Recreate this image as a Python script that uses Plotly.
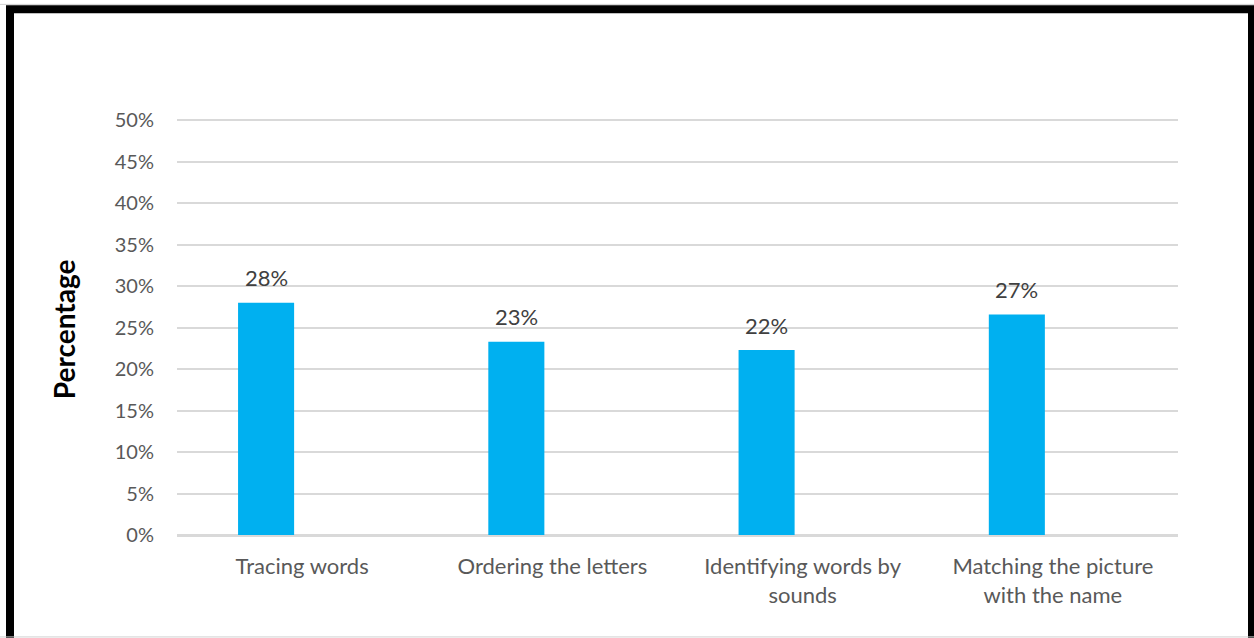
import plotly.graph_objects as go

categories = ["Tracing words", "Ordering the letters", "Identifying words by<br>sounds", "Matching the picture<br>with the name"]
values = [0.280, 0.233, 0.223, 0.266]
y_ticks = [0, 0.05, 0.10, 0.15, 0.20, 0.25, 0.30, 0.35, 0.40, 0.45, 0.50]
y_title = "Percentage"

W, H = 1254, 638
Y_MAX = 0.51
AXIS_Y = 535          # pixel row of 0%
PX_PER_UNIT = 415 / 0.5
L, R, B = 177, 76, H - AXIS_Y
T = AXIS_Y - PX_PER_UNIT * Y_MAX
pw, ph = W - L - R, H - T - B

def px_x(x):
    return (x - L) / pw

def px_y(y):
    return (H - B - y) / ph

FONT = "Lato"
BAR_WIDTH = 0.224
BAR_OFFSET = -0.256
bar_center_shift = (BAR_OFFSET + BAR_WIDTH / 2) * pw / len(categories)

fig = go.Figure()
fig.add_trace(go.Bar(
    x=categories, y=values,
    width=BAR_WIDTH, offset=BAR_OFFSET,
    marker=dict(color="#00B0F0", line=dict(width=0)),
    showlegend=False,
))

annotations = [
    dict(x=c, y=v, xref="x", yref="y", text=f"{v:.0%}", showarrow=False,
         xshift=bar_center_shift, yshift=25, yanchor="middle", xanchor="center",
         font=dict(family=FONT, size=22, color="#404040"))
    for c, v in zip(categories, values)
]
annotations.append(dict(
    x=px_x(64), y=px_y(329), xref="paper", yref="paper", text=f"<b>{y_title}</b>",
    showarrow=False, textangle=-90, xanchor="center", yanchor="middle",
    font=dict(family=FONT, size=28, color="black"),
))

fig.update_layout(
    width=W, height=H,
    margin=dict(l=L, r=R, t=T, b=B, autoexpand=False),
    paper_bgcolor="white", plot_bgcolor="white",
    annotations=annotations,
    xaxis=dict(
        showgrid=False, showline=True, linecolor="#D9D9D9", linewidth=1.5,
        ticks="", tickfont=dict(family=FONT, size=22, color="#595959"),
        ticklabelstandoff=11,
    ),
    yaxis=dict(
        range=[0, Y_MAX], tickvals=y_ticks, tickformat=".0%",
        showgrid=True, gridcolor="#D9D9D9", gridwidth=1.5,
        zeroline=True, zerolinecolor="#D9D9D9", zerolinewidth=1.5,
        ticks="", tickfont=dict(family=FONT, size=20, color="#595959"),
        ticklabelstandoff=22,
    ),
    shapes=[
        dict(type="rect", xref="paper", yref="paper",
             x0=px_x(10), x1=px_x(1252), y0=px_y(8.8), y1=px_y(660),
             line=dict(color="black", width=8), fillcolor="rgba(0,0,0,0)", layer="above"),
        dict(type="line", xref="paper", yref="paper",
             x0=px_x(0), x1=px_x(1254), y0=px_y(4), y1=px_y(4),
             line=dict(color="#D0D0D0", width=1)),
        dict(type="line", xref="paper", yref="paper",
             x0=px_x(0), x1=px_x(1254), y0=px_y(637), y1=px_y(637),
             line=dict(color="#D0D0D0", width=1)),
    ],
)

fig.write_html("out.html", config={"displayModeBar": False},
               post_script="document.body.style.margin='0';document.body.style.overflow='hidden';")
